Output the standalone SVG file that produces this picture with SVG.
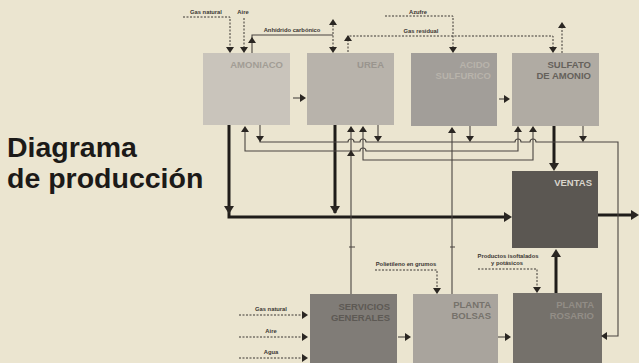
<svg xmlns="http://www.w3.org/2000/svg" xmlns:xlink="http://www.w3.org/1999/xlink" width="639" height="363" viewBox="0 0 639 363">
<style>
.bg{fill:#ebe5d0}
.box{stroke:none}
.lbl{font-family:"Liberation Sans",Arial,sans-serif;font-weight:bold;font-size:9.5px;text-anchor:end}
.sm{font-family:"Liberation Sans",Arial,sans-serif;font-weight:bold;font-size:5.8px;fill:#3a3632;text-anchor:middle}
.thin{fill:none;stroke:#4a4540;stroke-width:1.1}
.dot{fill:none;stroke:#3a3632;stroke-width:1;stroke-dasharray:2 1.5}
.thick{fill:none;stroke:#1f1c19;stroke-width:3}
.ah{fill:#2a2622}
.title{font-family:"Liberation Sans",Arial,sans-serif;font-weight:bold;font-size:28.5px;fill:#1c1a18}
</style>
<defs>
<path id="ad" class="ah" d="M0,0 L-4,-6 L4,-6 Z"/>
<path id="au" class="ah" d="M0,0 L-4,6 L4,6 Z"/>
<path id="ar" class="ah" d="M0,0 L-6,-4 L-6,4 Z"/>
<path id="al" class="ah" d="M0,0 L6,-4 L6,4 Z"/>
<path id="AD" class="ah" d="M0,0 L-5,-8 L5,-8 Z"/>
<path id="AU" class="ah" d="M0,0 L-5,8 L5,8 Z"/>
<path id="AR" class="ah" d="M0,0 L-8,-5 L-8,5 Z"/>
</defs>
<rect class="bg" x="0" y="0" width="639" height="363"/>

<g id="title">
<text class="title" x="7" y="157">Diagrama</text>
<text class="title" x="7" y="188">de producción</text>
</g>

<g id="amoniaco">
<rect class="box" x="203" y="53" width="87" height="72" fill="#c9c4bb"/>
<text class="lbl" x="283" y="68" fill="#a29d95">AMONIACO</text>
</g>
<g id="urea">
<rect class="box" x="307" y="53" width="87" height="72" fill="#b8b3ab"/>
<text class="lbl" x="384" y="68" fill="#9a958e">UREA</text>
</g>
<g id="acido-sulfurico">
<rect class="box" x="411" y="53" width="86" height="73" fill="#a29e99"/>
<text class="lbl" x="490" y="68" fill="#b8b3ab">ACIDO</text>
<text class="lbl" x="491" y="79" fill="#b8b3ab">SULFURICO</text>
</g>
<g id="sulfato-de-amonio">
<rect class="box" x="512" y="53" width="87" height="73" fill="#b0aba3"/>
<text class="lbl" x="591" y="68" fill="#65615b">SULFATO</text>
<text class="lbl" x="591" y="79" fill="#65615b">DE AMONIO</text>
</g>
<g id="ventas">
<rect class="box" x="512" y="171" width="86" height="77" fill="#5b5752"/>
<text class="lbl" x="592" y="186" fill="#d9d5cc">VENTAS</text>
</g>
<g id="servicios-generales">
<rect class="box" x="310" y="294" width="87" height="69" fill="#807c77"/>
<text class="lbl" x="390" y="310" fill="#5d5954">SERVICIOS</text>
<text class="lbl" x="390" y="321" fill="#5d5954">GENERALES</text>
</g>
<g id="planta-bolsas">
<rect class="box" x="413" y="294" width="85" height="69" fill="#a9a49d"/>
<text class="lbl" x="491" y="308" fill="#76726b">PLANTA</text>
<text class="lbl" x="491" y="319" fill="#76726b">BOLSAS</text>
</g>
<g id="planta-rosario">
<rect class="box" x="513" y="293" width="89" height="70" fill="#75716b"/>
<text class="lbl" x="594" y="308" fill="#928d86">PLANTA</text>
<text class="lbl" x="594" y="319" fill="#928d86">ROSARIO</text>
</g>

<g id="connectors">
<!-- top inputs / outputs -->
<path class="dot" d="M183,17 H230 V47"/><use xlink:href="#ad" x="230" y="53"/>
<text class="sm" x="206" y="14">Gas natural</text>
<path class="dot" d="M244,18 V47"/><use xlink:href="#ad" x="244" y="53"/>
<text class="sm" x="243" y="14">Aire</text>
<path class="thin" d="M252,53 V35 H333"/><use xlink:href="#au" x="252" y="37"/>
<text class="sm" x="292" y="32">Anhídrido carbónico</text>
<path class="dot" d="M333,25 V47"/><use xlink:href="#au" x="333" y="19"/><use xlink:href="#ad" x="333" y="53"/>
<path class="dot" d="M348,52 V36 H553 V47"/><use xlink:href="#au" x="348" y="35"/><use xlink:href="#ad" x="553" y="53"/>
<text class="sm" x="421" y="33">Gas residual</text>
<path class="dot" d="M385,16 H453 V47"/><use xlink:href="#ad" x="453" y="53"/>
<text class="sm" x="418" y="14">Azufre</text>
<path class="dot" d="M562,53 V28"/><use xlink:href="#au" x="562" y="22"/>

<!-- between top boxes -->
<path class="thin" d="M293,98 H300"/><use xlink:href="#ar" x="306" y="98"/>
<path class="thin" d="M499,99 H504"/><use xlink:href="#ar" x="510" y="99"/>

<!-- thick flows to ventas -->
<path class="thick" d="M229,125 V217 H505"/><use xlink:href="#AD" x="229" y="214"/><use xlink:href="#AR" x="512" y="217"/>
<path class="thick" d="M335,125 V213"/><use xlink:href="#AD" x="335" y="214"/>
<path class="thick" d="M554,126 V164"/><use xlink:href="#AD" x="554" y="171"/>
<path class="thick" d="M556,293 V256"/><use xlink:href="#AU" x="556" y="249"/>
<path class="thick" d="M598,215 H632"/><use xlink:href="#AR" x="639" y="215"/>

<!-- thin network -->
<path class="thin" d="M260,125 V142 H348 a3,3 0 0 1 6,0 H360 a3,3 0 0 1 6,0 H515 a3,3 0 0 1 6,0 H530 a3,3 0 0 1 6,0 H618 V336 H607"/>
<use xlink:href="#ad" x="260" y="142"/>
<path class="thin" d="M378,125 V137"/><use xlink:href="#ad" x="378" y="142"/>
<path class="thin" d="M470,126 V137"/><use xlink:href="#ad" x="470" y="142"/>
<path class="thin" d="M583,126 V137"/><use xlink:href="#ad" x="583" y="142"/>
<use xlink:href="#al" x="601" y="336"/>
<path class="thin" d="M245,132 V151 H360 a3,3 0 0 1 6,0 H518 V132"/>
<use xlink:href="#au" x="245" y="126"/><use xlink:href="#au" x="518" y="126"/>
<path class="thin" d="M363,132 V160 H533 V132"/>
<use xlink:href="#au" x="363" y="126"/><use xlink:href="#au" x="533" y="126"/>
<path class="thin" d="M351,132 V294"/>
<use xlink:href="#au" x="351" y="126"/><use xlink:href="#au" x="351" y="150"/>
<path class="thin" d="M452,132 V294"/>
<use xlink:href="#au" x="452" y="127"/>
<path class="thin" d="M349,247 H355 M450,247 H455" stroke-width="0.6"/>

<!-- bottom inputs -->
<path class="dot" d="M239,315 H302"/><use xlink:href="#ar" x="308" y="315"/>
<text class="sm" x="271" y="311">Gas natural</text>
<path class="dot" d="M239,337 H302"/><use xlink:href="#ar" x="308" y="337"/>
<text class="sm" x="271" y="333">Aire</text>
<path class="dot" d="M239,358 H302"/><use xlink:href="#ar" x="308" y="358"/>
<text class="sm" x="271" y="354">Agua</text>
<path class="thin" d="M398,337 H405"/><use xlink:href="#ar" x="411" y="337"/>
<path class="thin" d="M498,337 H505"/><use xlink:href="#ar" x="511" y="337"/>
<path class="dot" d="M375,270 H437 V288"/><use xlink:href="#ad" x="437" y="294"/>
<text class="sm" x="406" y="266">Polietileno en grumos</text>
<path class="dot" d="M478,269 H537 V287"/><use xlink:href="#ad" x="537" y="293"/>
<text class="sm" x="508" y="258">Productos isoftalados</text>
<text class="sm" x="507" y="265">y potásicos</text>
</g>
</svg>
